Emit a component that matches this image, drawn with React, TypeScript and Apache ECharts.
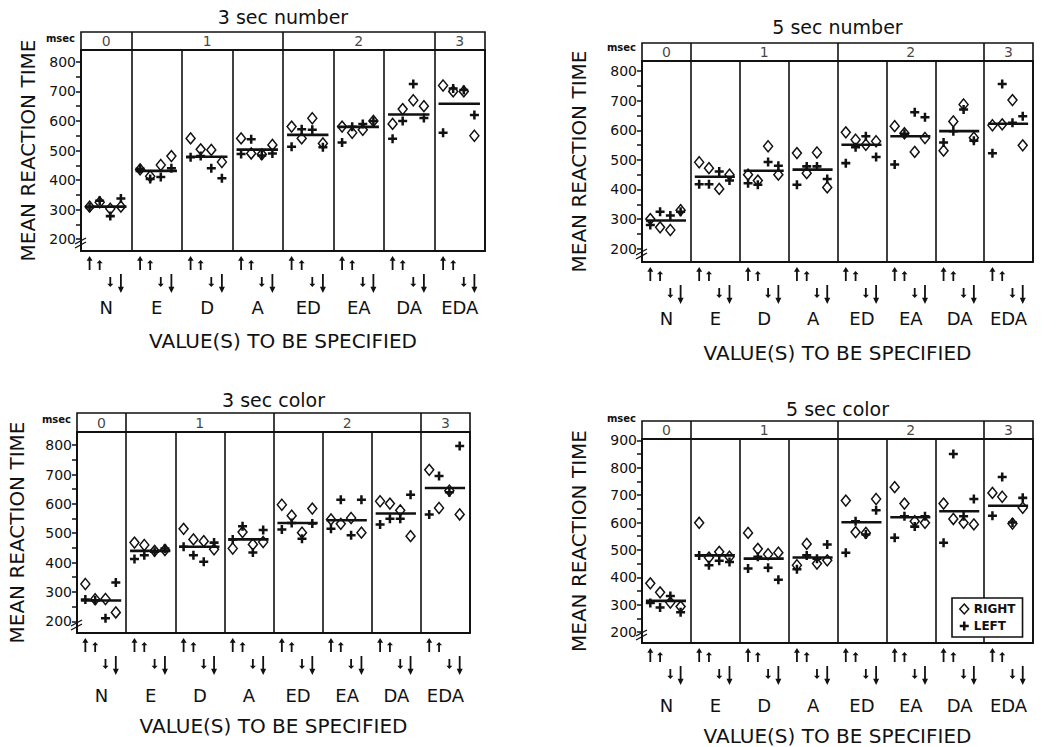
import React, { useEffect, useRef } from 'react';
import * as echarts from 'echarts';

// ---------- text ----------
const categories = ['N', 'E', 'D', 'A', 'ED', 'EA', 'DA', 'EDA'];
const groupLabels = ['0', '1', '2', '3'];
const groupSizes = [1, 3, 3, 1];
const seriesNames = ['RIGHT', 'LEFT'];
const xAxisTitle = 'VALUE(S) TO BE SPECIFIED';
const yAxisTitle = 'MEAN REACTION TIME';
const unitLabel = 'msec';
const panelTitles = ['3 sec number', '5 sec number', '3 sec color', '5 sec color'];

// ---------- tick labels ----------
const yLabels800 = [200, 300, 400, 500, 600, 700, 800];
const yTicks800 = [200, 250, 300, 350, 400, 450, 500, 550, 600, 650, 700, 750, 800];
const yLabels900 = [200, 300, 400, 500, 600, 700, 800, 900];
const yTicks900 = [200, 250, 300, 350, 400, 450, 500, 550, 600, 650, 700, 750, 800, 850, 900];

// ---------- data: [column][arrow position 1..4] ----------
// 3 sec number
const num3Right = [
  [310, 325, 303, 310], [436, 413, 451, 481], [541, 504, 502, 461], [541, 490, 487, 519],
  [581, 541, 609, 524], [581, 560, 570, 600], [590, 640, 670, 650], [720, 700, 700, 550],
];
const num3Left = [
  [308, 330, 278, 338], [438, 404, 410, 440], [477, 481, 440, 406], [488, 538, 483, 490],
  [513, 572, 570, 511], [527, 580, 590, 600], [540, 600, 725, 610], [560, 710, 705, 620],
];
const num3Mean = [310, 431, 479, 503, 553, 580, 622, 658];

// 5 sec number
const num5Right = [
  [300, 272, 263, 330], [492, 472, 402, 450], [450, 430, 546, 450], [523, 455, 525, 407],
  [593, 568, 551, 563], [614, 590, 527, 574], [531, 630, 687, 575], [617, 620, 702, 549],
];
const num5Left = [
  [280, 325, 312, 325], [418, 418, 461, 430], [421, 416, 493, 480], [416, 478, 478, 435],
  [489, 543, 580, 510], [484, 588, 661, 644], [559, 597, 670, 565], [522, 756, 625, 647],
];
const num5Mean = [295, 443, 463, 467, 551, 580, 597, 622];

// 3 sec color
const col3Right = [
  [327, 275, 276, 230], [468, 460, 440, 443], [515, 479, 473, 445], [448, 504, 462, 470],
  [597, 560, 502, 584], [547, 532, 552, 502], [609, 601, 578, 490], [716, 586, 645, 564],
];
const col3Left = [
  [274, 272, 210, 332], [412, 425, 437, 448], [454, 425, 403, 468], [479, 524, 434, 511],
  [513, 535, 481, 533], [515, 614, 493, 614], [530, 549, 549, 631], [564, 695, 640, 797],
];
const col3Mean = [271, 440, 454, 479, 535, 544, 567, 654];

// 5 sec color
const col5Right = [
  [378, 345, 308, 293], [599, 472, 493, 475], [562, 504, 484, 490], [444, 522, 450, 462],
  [680, 565, 562, 686], [729, 669, 605, 599], [669, 613, 599, 593], [708, 694, 596, 654],
];
const col5Left = [
  [306, 290, 332, 272], [480, 444, 460, 456], [432, 475, 435, 391], [429, 480, 468, 520],
  [490, 605, 556, 645], [544, 623, 585, 623], [526, 850, 623, 686], [625, 766, 600, 690],
];
const col5Mean = [314, 480, 468, 472, 601, 619, 641, 661];

// ---------- layout / styles ----------
const FONT = 'DejaVu Sans';
const INK = '#111';
const posFrac = [0.17, 0.37, 0.58, 0.79];
const arrowUp = [true, true, false, false];
const arrowLen = [14, 10, 10, 19];
const arrowMid = [12, 14, 31, 32.5];
const PLUS = 'path://M3.6,0H6.4V3.6H10V6.4H6.4V10H3.6V6.4H0V3.6H3.6Z';
const UP = 'path://M5,0L10,10L6.5,10L6.5,30L3.5,30L3.5,10L0,10Z';
const DOWN = 'path://M3.5,0L6.5,0L6.5,20L10,20L5,30L0,20L3.5,20Z';

const layouts = [
  { left: 81, width: 404, hTop: 32, top: 50, bottom: 251, min: 160, max: 840, titleTop: 7, msecGap: 12, nameGap: 43, lblOff: 56, ttlOff: 91 },
  { left: 642, width: 391, hTop: 43, top: 61, bottom: 262, min: 155, max: 834, titleTop: 17, msecGap: 14, nameGap: 53, lblOff: 56, ttlOff: 92 },
  { left: 77, width: 393, hTop: 413, top: 432, bottom: 633, min: 160, max: 845, titleTop: 390, msecGap: 13, nameGap: 50, lblOff: 62, ttlOff: 94 },
  { left: 642, width: 391, hTop: 421, top: 439, bottom: 643, min: 160, max: 905, titleTop: 399, msecGap: 21, nameGap: 53, lblOff: 62, ttlOff: 94 },
];

const panelData = [
  { R: num3Right, L: num3Left, M: num3Mean, labels: yLabels800, ticks: yTicks800 },
  { R: num5Right, L: num5Left, M: num5Mean, labels: yLabels800, ticks: yTicks800 },
  { R: col3Right, L: col3Left, M: col3Mean, labels: yLabels800, ticks: yTicks800 },
  { R: col5Right, L: col5Left, M: col5Mean, labels: yLabels900, ticks: yTicks900 },
];

function buildOption() {
  const grid: any[] = [];
  const xAxis: any[] = [];
  const yAxis: any[] = [];
  const series: any[] = [];
  const title: any[] = [];
  const graphic: any[] = [];

  const groupStart: number[] = [];
  let acc = 0;
  groupSizes.forEach((s) => { groupStart.push(acc); acc += s; });
  const groupCenters = groupSizes.map((s, i) => groupStart[i] + s / 2);
  const groupBounds = groupStart.slice(1);

  layouts.forEach((p, k) => {
    const d = panelData[k];
    const gH = grid.length;
    grid.push({ left: p.left, top: p.hTop, width: p.width, height: p.top - p.hTop, show: true, borderColor: INK, borderWidth: 1.6, backgroundColor: 'transparent' });
    const gM = grid.length;
    grid.push({ left: p.left, top: p.top, width: p.width, height: p.bottom - p.top, show: true, borderColor: INK, borderWidth: 1.8, backgroundColor: 'transparent' });
    const gA = grid.length;
    grid.push({ left: p.left, top: p.bottom + 2, width: p.width, height: 42 });

    const xH = xAxis.length;
    xAxis.push({ gridIndex: gH, type: 'value', min: 0, max: 8, show: false });
    const yH = yAxis.length;
    yAxis.push({ gridIndex: gH, type: 'value', min: 0, max: 1, show: false });

    const xM = xAxis.length;
    xAxis.push({
      gridIndex: gM, type: 'value', min: 0, max: 8, interval: 1,
      axisLine: { show: false }, axisTick: { show: false }, axisLabel: { show: false },
      splitLine: { show: true, lineStyle: { color: INK, width: 1.6 } },
    });
    const yM = yAxis.length;
    yAxis.push({
      gridIndex: gM, type: 'value', min: p.min, max: p.max, position: 'left',
      axisLine: { show: true, lineStyle: { color: INK, width: 1.8 } },
      axisTick: { show: true, customValues: d.ticks, length: 5, lineStyle: { color: INK, width: 1.5 } },
      axisLabel: { customValues: d.labels, color: INK, fontFamily: FONT, fontSize: 14, margin: 5 },
      splitLine: { show: false },
      name: unitLabel, nameLocation: 'end', nameGap: p.msecGap,
      nameTextStyle: { color: INK, fontFamily: FONT, fontSize: 10, fontWeight: 'bold', align: 'right', verticalAlign: 'middle', padding: [0, 6, 0, 0] },
    });
    yAxis.push({
      gridIndex: gM, type: 'value', min: p.min, max: p.max, position: 'left',
      axisLine: { show: false }, axisTick: { show: false }, axisLabel: { show: false }, splitLine: { show: false },
      name: yAxisTitle, nameLocation: 'middle', nameGap: p.nameGap, nameRotate: 90,
      nameTextStyle: { color: INK, fontFamily: FONT, fontSize: 20 },
    });

    const xA = xAxis.length;
    xAxis.push({ gridIndex: gA, type: 'value', min: 0, max: 8, show: false });
    xAxis.push({
      gridIndex: gA, type: 'category', data: categories, position: 'bottom', boundaryGap: true,
      axisLine: { show: false }, axisTick: { show: false },
      axisLabel: { color: INK, fontFamily: FONT, fontSize: 18, margin: p.lblOff - 44 - 9, interval: 0 },
      name: xAxisTitle, nameLocation: 'middle', nameGap: p.ttlOff - 44 - 11,
      nameTextStyle: { color: INK, fontFamily: FONT, fontSize: 20 },
    });
    const yA = yAxis.length;
    yAxis.push({ gridIndex: gA, type: 'value', min: 0, max: 42, inverse: true, show: false });

    series.push({
      type: 'scatter', name: 'groups' + k, xAxisIndex: xH, yAxisIndex: yH, silent: true,
      symbolSize: 1, itemStyle: { color: 'rgba(0,0,0,0)' },
      data: groupCenters.map((c, i) => ({ value: [c, 0.5], name: groupLabels[i] })),
      label: { show: true, position: 'inside', formatter: '{b}', color: INK, fontFamily: FONT, fontSize: 14 },
      markLine: {
        silent: true, symbol: 'none', label: { show: false },
        lineStyle: { color: INK, type: 'solid', width: 1.6 },
        data: groupBounds.map((b) => ({ xAxis: b })),
      },
    });

    const rightData: number[][] = [];
    const leftData: number[][] = [];
    d.R.forEach((col, i) => col.forEach((v, j) => rightData.push([i + posFrac[j], v])));
    d.L.forEach((col, i) => col.forEach((v, j) => leftData.push([i + posFrac[j], v])));
    series.push({
      type: 'scatter', name: seriesNames[0], xAxisIndex: xM, yAxisIndex: yM,
      symbol: 'diamond', symbolSize: [9, 11], z: 3,
      itemStyle: { color: 'rgba(0,0,0,0)', borderColor: INK, borderWidth: 1.5, opacity: 1 },
      data: rightData,
    });
    series.push({
      type: 'scatter', name: seriesNames[1], xAxisIndex: xM, yAxisIndex: yM,
      symbol: PLUS, symbolSize: 9, z: 4,
      itemStyle: { color: INK, opacity: 1 },
      data: leftData,
    });
    series.push({
      type: 'custom', name: 'mean' + k, xAxisIndex: xM, yAxisIndex: yM, z: 5, silent: true,
      renderItem: (params: any, api: any) => {
        const i = api.value(0);
        const m = api.value(1);
        const a = api.coord([i + 0.08, m]);
        const b = api.coord([i + 0.9, m]);
        return { type: 'line', shape: { x1: a[0], y1: a[1], x2: b[0], y2: b[1] }, style: { stroke: INK, lineWidth: 2.6 } };
      },
      data: d.M.map((m, i) => [i, m]),
    });

    const arrows: any[] = [];
    categories.forEach((_, i) => {
      posFrac.forEach((f, j) => {
        arrows.push({ value: [i + f, arrowMid[j] - 2], symbol: arrowUp[j] ? UP : DOWN, symbolSize: [6, arrowLen[j]] });
      });
    });
    series.push({
      type: 'scatter', name: 'arrows' + k, xAxisIndex: xA, yAxisIndex: yA, silent: true,
      itemStyle: { color: INK, opacity: 1 }, data: arrows,
    });

    title.push({
      text: panelTitles[k], left: p.left + p.width / 2, top: p.titleTop, textAlign: 'center', padding: 0,
      textStyle: { color: INK, fontFamily: FONT, fontSize: 19, fontWeight: 'normal' },
    });

    [0, 4].forEach((o) => {
      graphic.push({
        type: 'line', shape: { x1: p.left - 6, y1: p.bottom - 3 - o, x2: p.left + 5, y2: p.bottom - 9 - o },
        style: { stroke: INK, lineWidth: 1.4 },
      });
    });
  });

  return {
    animation: false,
    backgroundColor: '#fff',
    textStyle: { fontFamily: FONT },
    title,
    grid,
    xAxis,
    yAxis,
    series,
    graphic,
    legend: {
      data: [
        { name: seriesNames[0], itemStyle: { color: 'rgba(0,0,0,0)', borderColor: INK, borderWidth: 1.5 } },
        { name: seriesNames[1], icon: PLUS },
      ],
      orient: 'vertical', left: 952, top: 598, padding: [5, 7], itemGap: 5,
      itemWidth: 9, itemHeight: 10, selectedMode: false,
      borderColor: INK, borderWidth: 1.6, backgroundColor: '#fff',
      textStyle: { color: INK, fontFamily: FONT, fontSize: 12, fontWeight: 'bold' },
    },
  };
}

export default function App() {
  const ref = useRef<HTMLDivElement>(null);
  useEffect(() => {
    if (!ref.current) return;
    const chart = echarts.init(ref.current, null, { renderer: 'svg' });
    chart.setOption(buildOption() as any);
    return () => chart.dispose();
  }, []);
  return <div ref={ref} style={{ position: 'absolute', left: 0, top: 0, width: 1060, height: 747 }} />;
}
